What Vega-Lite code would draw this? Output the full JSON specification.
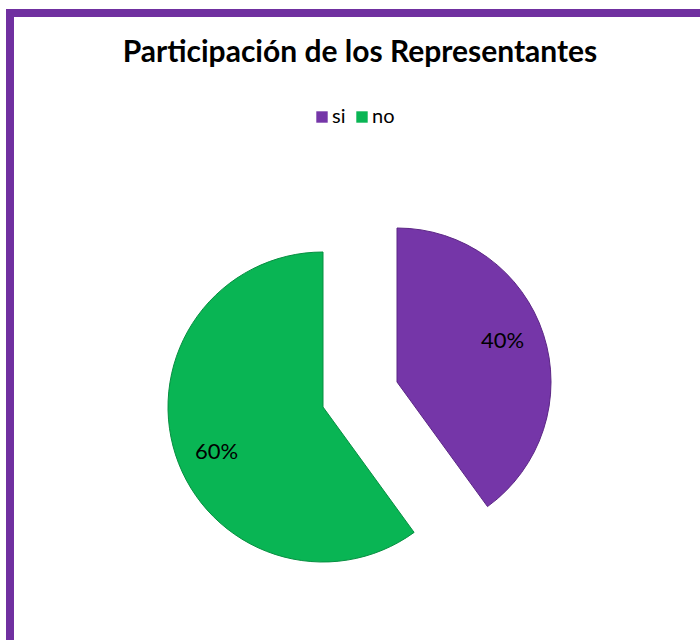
{
  "$schema": "https://vega.github.io/schema/vega-lite/v6.json",
  "width": 700,
  "height": 763,
  "autosize": {"type": "none"},
  "padding": {"left": 10, "top": 13, "right": -10, "bottom": -136},
  "background": "white",
  "config": {
    "view": {"stroke": "#7030A0", "strokeWidth": 8},
    "font": "Lato"
  },
  "title": {
    "text": "Participación de los Representantes",
    "font": "Lato",
    "fontSize": 30,
    "fontWeight": "bold",
    "color": "#000000",
    "anchor": "middle",
    "baseline": "alphabetic",
    "offset": -82
  },
  "data": {
    "values": [
      {"cat": "si", "value": 40, "label": "40%", "order": 1},
      {"cat": "no", "value": 60, "label": "60%", "order": 2}
    ]
  },
  "layer": [
    {
      "mark": {"type": "point", "opacity": 0},
      "encoding": {
        "x": {"field": "order", "type": "quantitative", "axis": null},
        "y": {"field": "order", "type": "quantitative", "axis": null}
      }
    },
    {
      "transform": [
        {"stack": "value", "groupby": [], "sort": [{"field": "order", "order": "ascending"}], "as": ["v0", "v1"]},
        {"filter": "datum.cat === 'si'"}
      ],
      "mark": {"type": "arc", "outerRadius": 154, "xOffset": 37, "yOffset": -12.5, "stroke": "#5B2585", "strokeWidth": 1},
      "encoding": {
        "theta": {"field": "v0", "type": "quantitative", "scale": {"domain": [0, 100]}},
        "theta2": {"field": "v1"},
        "color": {
          "field": "cat",
          "type": "nominal",
          "scale": {"domain": ["si", "no"], "range": ["#7536A8", "#09B554"]},
          "legend": {
            "orient": "none",
            "legendX": 302,
            "legendY": 94,
            "direction": "horizontal",
            "title": null,
            "symbolType": "square",
            "symbolSize": 130,
            "symbolStrokeWidth": 0,
            "labelFont": "Lato",
            "labelFontSize": 20,
            "labelColor": "#000000",
            "labelOffset": 0,
            "columnPadding": 6
          }
        }
      }
    },
    {
      "transform": [
        {"stack": "value", "groupby": [], "sort": [{"field": "order", "order": "ascending"}], "as": ["v0", "v1"]},
        {"filter": "datum.cat === 'no'"}
      ],
      "mark": {"type": "arc", "outerRadius": 155, "xOffset": -37, "yOffset": 12.5, "stroke": "#078F41", "strokeWidth": 1},
      "encoding": {
        "theta": {"field": "v0", "type": "quantitative", "scale": {"domain": [0, 100]}},
        "theta2": {"field": "v1"},
        "color": {"field": "cat", "type": "nominal"}
      }
    },
    {
      "mark": {"type": "text", "radius": 111, "xOffset": 37, "yOffset": -12.5, "dy": -7, "font": "Lato", "fontSize": 22, "color": "#000000"},
      "encoding": {
        "theta": {"field": "value", "type": "quantitative", "stack": true},
        "order": {"field": "order", "type": "quantitative"},
        "text": {"condition": {"test": "datum.cat === 'si'", "field": "label"}, "value": ""}
      }
    },
    {
      "mark": {"type": "text", "radius": 114, "xOffset": -37, "yOffset": 12.5, "dy": 10, "dx": 2, "font": "Lato", "fontSize": 22, "color": "#000000"},
      "encoding": {
        "theta": {"field": "value", "type": "quantitative", "stack": true},
        "order": {"field": "order", "type": "quantitative"},
        "text": {"condition": {"test": "datum.cat === 'no'", "field": "label"}, "value": ""}
      }
    }
  ]
}
